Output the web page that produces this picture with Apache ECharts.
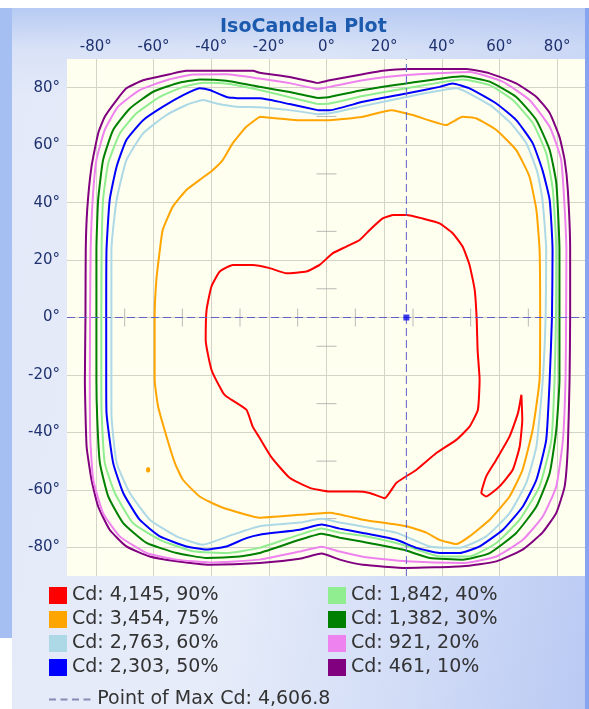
<!DOCTYPE html>
<html><head><meta charset="utf-8">
<script src="https://cdn.jsdelivr.net/npm/echarts@6/dist/echarts.min.js"></script>
<style>
html,body{margin:0;padding:0;width:589px;height:709px;background:#fff;overflow:hidden;position:relative}
#strip{position:absolute;left:0;top:8px;width:12px;height:630px;background:#a6bff3}
#panel{position:absolute;left:12px;top:8px;right:0;bottom:0;background:linear-gradient(to bottom, rgba(178,199,242,0.9) 0px, rgba(205,218,245,0.5) 40px, rgba(225,232,248,0) 90px), linear-gradient(100deg, #e3e9f8 0%, #e6ecf9 45%, #d0dbf6 75%, #b9c9f3 100%)}
#edge{position:absolute;right:0;top:8px;width:4px;bottom:0;background:#86a4ef;z-index:5}
#chart{position:absolute;left:0;top:0;width:589px;height:709px;z-index:2}
</style></head>
<body>
<div id="strip"></div><div id="panel"></div><div id="chart"></div><div id="edge"></div>
<script>
// ---- data (degrees) ----
const axisMin = -90, axisMax = 90;
const contourNames = ['Cd: 4,145, 90%','Cd: 3,454, 75%','Cd: 2,763, 60%','Cd: 2,303, 50%','Cd: 1,842, 40%','Cd: 1,382, 30%','Cd: 921, 20%','Cd: 461, 10%'];
const maxCd = 4606.8;
const maxPoint = [27.7, 0];
const minorTickX = [-70,-50,-30,-10,10,30,50,70];
const minorTickY = [-70,-50,-30,-10,10,30,50,70];

const red90Main = [[22.9,35.7],[27.7,35.7],[33.3,34.5],[39.2,32.8],[43.7,29.4],[47.2,24.7],[49.6,18.3],[51.4,9.6],[52.1,-0.8],[52.4,-11.3],[53.1,-21.7],[52.5,-32.1],[49.6,-38.0],[45.0,-42.6],[38.1,-47.2],[31.2,-53.0],[24.2,-57.6],[20.2,-62.9],[15.0,-61.1],[10.4,-60.6],[1.1,-60.6],[-5.8,-59.3],[-12.8,-55.8],[-19.0,-48.8],[-23.2,-41.9],[-25.6,-38.0],[-27.8,-32.1],[-34.7,-27.5],[-35.9,-26.2],[-39.9,-18.2],[-41.9,-7.8],[-41.6,2.6],[-39.9,10.8],[-37.0,16.0],[-32.5,18.3],[-25.6,18.3],[-19.7,17.2],[-13.9,15.4],[-7.0,16.0],[-2.4,18.3],[2.2,22.4],[6.9,24.7],[11.5,27.0],[15.0,30.5],[19.5,34.5],[22.9,35.7]];
const red90Loop = [[67.6,-26.9],[67.9,-35.6],[67.0,-44.9],[64.6,-53.0],[60.0,-58.8],[55.4,-62.3],[53.7,-61.1],[55.4,-55.3],[58.9,-49.5],[63.5,-41.4],[66.4,-33.3],[67.6,-26.9]];
const orange75 = [[-23.2,69.9],[-9.3,68.7],[1.1,68.7],[12.6,69.9],[22.5,72.2],[29.9,70.5],[41.6,67.0],[43.7,68.1],[47.2,69.9],[52.0,69.3],[58.9,65.3],[65.8,58.3],[70.4,49.0],[72.8,37.4],[73.9,23.5],[74.1,0.2],[73.9,-21.7],[71.5,-39.1],[68.0,-53.0],[63.5,-62.3],[56.6,-70.4],[49.6,-76.2],[45.0,-78.9],[39.2,-77.4],[34.6,-74.9],[27.7,-72.7],[12.6,-70.4],[1.1,-68.0],[-9.3,-68.7],[-23.2,-69.7],[-27.8,-68.7],[-37.0,-65.8],[-44.0,-62.3],[-49.8,-56.5],[-52.6,-50.6],[-55.5,-41.4],[-58.4,-31.0],[-59.6,-21.7],[-59.6,0.2],[-59.0,13.1],[-57.8,23.5],[-56.8,30.5],[-53.3,38.6],[-48.6,44.4],[-44.0,47.9],[-39.5,51.3],[-36.0,54.8],[-32.5,60.7],[-27.8,66.4],[-23.2,69.9]];
const orange75Dot = [[-62.2,-52.4],[-61.5,-52.5],[-61.5,-53.5],[-62.2,-53.6],[-62.2,-52.4]];
const lightBlue60 = [[-3.1,70.8],[1.1,71.1],[12.6,73.6],[27.7,76.8],[45.0,79.8],[56.6,74.0],[63.5,68.1],[69.3,60.7],[73.2,50.3],[74.9,40.9],[76.2,23.5],[76.0,0.2],[75.0,-21.7],[72.8,-44.9],[69.3,-57.6],[63.5,-68.1],[55.4,-76.2],[46.2,-80.2],[35.8,-79.7],[24.2,-74.9],[12.6,-72.8],[4.6,-71.4],[-1.7,-70.1],[-9.3,-71.4],[-23.2,-72.7],[-32.5,-75.6],[-42.9,-79.1],[-52.0,-76.2],[-61.3,-70.4],[-68.2,-61.1],[-72.8,-50.6],[-74.6,-33.2],[-74.6,-21.7],[-74.6,0.2],[-74.6,23.5],[-72.8,40.9],[-69.4,54.8],[-63.6,64.1],[-55.5,70.5],[-48.6,74.0],[-42.8,75.7],[-38.2,74.5],[-31.2,73.4],[-23.2,73.2],[-12.8,72.2],[-3.1,70.8]];
const blue50 = [[-3.1,72.2],[1.1,72.2],[12.6,75.1],[27.7,78.0],[39.2,80.3],[43.7,81.5],[49.6,79.8],[58.9,74.5],[65.8,68.7],[71.5,60.7],[74.9,51.3],[77.4,40.9],[78.4,23.5],[78.2,0.2],[77.4,-21.7],[76.2,-42.6],[72.8,-56.5],[68.1,-65.8],[61.2,-73.9],[53.1,-79.7],[46.2,-82.0],[39.2,-82.0],[31.2,-80.2],[24.2,-77.4],[12.6,-75.0],[4.6,-73.5],[-1.7,-72.1],[-9.3,-73.9],[-23.2,-75.6],[-27.8,-76.8],[-34.7,-79.7],[-41.6,-80.8],[-48.6,-79.7],[-57.8,-76.2],[-64.8,-70.4],[-70.5,-61.1],[-74.0,-50.6],[-76.3,-33.2],[-76.4,-21.7],[-76.4,0.2],[-76.3,23.5],[-75.2,40.9],[-72.8,52.5],[-69.4,61.8],[-63.6,68.7],[-56.7,73.4],[-49.7,77.4],[-44.0,79.8],[-40.5,79.2],[-34.7,76.8],[-30.1,76.3],[-23.2,76.3],[-12.8,74.3],[-3.1,72.2]];
const lightGreen40 = [[-3.1,74.3],[1.1,74.5],[12.6,77.1],[27.7,79.8],[47.2,82.9],[56.6,80.9],[64.6,75.7],[71.6,67.6],[76.2,57.2],[78.5,44.4],[79.7,23.5],[79.6,0.2],[79.1,-21.7],[78.0,-42.6],[73.9,-58.8],[67.0,-70.4],[58.9,-78.5],[49.6,-83.2],[39.2,-83.2],[26.4,-79.1],[12.6,-76.0],[4.6,-74.9],[-1.7,-73.5],[-9.3,-75.6],[-23.2,-80.2],[-34.7,-82.0],[-46.3,-81.4],[-57.8,-77.4],[-67.1,-71.6],[-73.4,-61.1],[-76.9,-50.6],[-78.0,-33.2],[-78.1,-21.7],[-78.1,0.2],[-78.0,23.5],[-77.5,40.9],[-75.7,53.7],[-71.7,64.1],[-65.9,71.1],[-57.8,76.8],[-49.7,80.3],[-42.8,81.7],[-33.6,81.3],[-23.2,79.2],[-12.8,76.7],[-3.1,74.3]];
const green30 = [[-3.1,76.4],[1.1,76.8],[12.6,79.2],[27.7,81.5],[47.2,84.0],[56.6,82.1],[65.8,76.8],[72.8,68.7],[77.4,58.3],[79.7,46.8],[80.8,23.5],[80.8,0.2],[80.8,-21.7],[79.7,-39.1],[77.4,-54.2],[72.8,-65.8],[65.8,-75.0],[56.6,-82.0],[47.2,-84.3],[35.8,-83.7],[26.4,-80.8],[12.6,-78.1],[4.6,-76.7],[-1.7,-75.3],[-9.3,-77.4],[-23.2,-82.0],[-30.1,-83.2],[-41.6,-83.7],[-52.0,-82.0],[-62.4,-78.5],[-70.5,-71.6],[-75.7,-62.3],[-78.6,-50.6],[-79.5,-35.6],[-79.8,-21.7],[-79.8,0.2],[-79.8,23.5],[-79.2,40.9],[-77.5,54.8],[-74.0,65.3],[-68.2,72.8],[-60.1,78.6],[-52.0,81.5],[-44.0,82.9],[-34.7,82.4],[-23.2,80.3],[-12.8,78.5],[-3.1,76.4]];
const violet20 = [[-3.1,79.5],[1.1,80.3],[12.6,82.6],[27.7,84.4],[49.6,85.5],[61.1,82.1],[70.4,75.7],[77.4,66.4],[81.4,54.8],[83.2,23.5],[83.1,0.2],[82.9,-21.7],[82.0,-42.6],[79.7,-58.8],[75.0,-69.3],[68.1,-77.4],[58.9,-83.2],[47.2,-85.5],[27.7,-84.9],[12.6,-83.3],[4.6,-81.5],[-1.7,-79.8],[-9.3,-81.5],[-23.2,-84.3],[-40.5,-85.3],[-52.0,-84.3],[-62.4,-82.0],[-71.7,-76.2],[-77.5,-68.1],[-80.9,-56.5],[-81.9,-42.6],[-82.1,-21.7],[-82.0,0.2],[-81.8,23.5],[-81.1,40.9],[-79.8,54.8],[-76.9,65.3],[-72.3,73.4],[-64.8,79.2],[-55.5,82.6],[-46.3,84.6],[-34.7,84.7],[-23.2,83.2],[-12.8,81.6],[-3.1,79.5]];
const purple10 = [[-3.1,81.6],[1.1,82.6],[12.6,84.7],[19.5,85.9],[27.7,86.5],[48.5,86.5],[56.6,85.0],[65.8,81.5],[72.8,76.8],[77.4,71.2],[80.8,62.9],[82.6,54.8],[83.7,44.4],[84.5,23.5],[84.5,0.2],[84.3,-21.7],[83.7,-44.9],[82.6,-58.8],[79.7,-68.0],[74.9,-74.9],[68.0,-80.8],[58.9,-84.9],[47.2,-86.6],[27.7,-87.2],[12.6,-86.1],[4.6,-84.3],[-1.7,-82.2],[-9.3,-84.0],[-23.2,-85.5],[-40.5,-86.1],[-52.0,-84.9],[-61.3,-83.2],[-69.4,-79.7],[-75.2,-73.9],[-79.2,-65.8],[-81.5,-56.5],[-83.2,-44.9],[-83.8,-21.7],[-83.6,0.2],[-83.5,23.5],[-83.0,37.4],[-81.5,52.5],[-79.2,64.1],[-76.9,69.9],[-72.8,75.7],[-69.4,79.8],[-63.6,82.6],[-54.4,84.7],[-48.6,85.9],[-25.5,85.9],[-23.2,85.2],[-12.8,83.7],[-3.1,81.6]];

// ---- styles ----
const contourColors = ['#ff0000','#ffa500','#add8e6','#0000ff','#90ee90','#008000','#ee82ee','#800080'];
const maxLineColor = '#6060c8';
const font = 'DejaVu Sans';
const labelColor = '#1f3270';

const maxName = 'Point of Max Cd: ' + maxCd.toLocaleString('en-US', {minimumFractionDigits: 1});

function contour(idx, data, z) {
  return {type: 'line', name: contourNames[idx], data: data, symbol: 'none', smooth: 0.15,
    lineStyle: {color: contourColors[idx], width: 2}, itemStyle: {color: contourColors[idx]},
    silent: true, z: z};
}
const degFmt = v => (Math.round(v) % 20 === 0 ? Math.round(v) + '°' : '');

const series = [
  {type: 'scatter', name: 'minorX', data: minorTickX.map(v => [v, 0]), symbol: 'rect', symbolSize: [1, 18], itemStyle: {color: '#a8a8a8'}, silent: true, z: 1},
  {type: 'scatter', name: 'minorY', data: minorTickY.map(v => [0, v]), symbol: 'rect', symbolSize: [20, 1], itemStyle: {color: '#a8a8a8'}, silent: true, z: 1},
  contour(7, purple10, 2),
  contour(6, violet20, 2),
  contour(5, green30, 2),
  contour(4, lightGreen40, 2),
  contour(3, blue50, 2),
  contour(2, lightBlue60, 2),
  contour(1, orange75, 2),
  contour(1, orange75Dot, 2),
  contour(0, red90Main, 2),
  contour(0, red90Loop, 2),
  {type: 'line', name: maxName, data: [[axisMin, maxPoint[1]], [axisMax, maxPoint[1]]], symbol: 'none',
   lineStyle: {color: maxLineColor, width: 1, type: [8, 4]}, itemStyle: {color: maxLineColor}, silent: true, z: 3},
  {type: 'line', name: maxName, data: [[maxPoint[0], axisMin], [maxPoint[0], axisMax]], symbol: 'none',
   lineStyle: {color: maxLineColor, width: 1, type: [8, 4]}, itemStyle: {color: maxLineColor}, silent: true, z: 3},
  {type: 'scatter', name: 'maxPt', data: [maxPoint], symbol: 'rect', symbolSize: 6, itemStyle: {color: '#1010e8'}, silent: true, z: 4}
];

const legendCommon = {orient: 'vertical', itemWidth: 18, itemHeight: 17, itemGap: 5, padding: 0, selectedMode: false,
  textStyle: {fontFamily: font, fontSize: 19, color: '#333'}, icon: 'rect'};

const option = {
  animation: false,
  textStyle: {fontFamily: font},
  title: {text: 'IsoCandela Plot', left: 215, top: 13,
    textStyle: {fontFamily: font, fontWeight: 'bold', fontSize: 19, color: '#1c5aae'}},
  grid: {left: 67, top: 59, width: 519, height: 517, show: true, backgroundColor: '#fffff0', borderWidth: 0},
  xAxis: {type: 'value', position: 'top', min: axisMin, max: axisMax, interval: 10,
    axisLine: {show: false}, axisTick: {show: false},
    axisLabel: {formatter: degFmt, margin: 4, fontSize: 15, color: labelColor, fontFamily: font},
    splitLine: {show: true, lineStyle: {color: ['rgba(0,0,0,0)', '#d3d3c8'], width: 1}}},
  yAxis: {type: 'value', position: 'left', min: axisMin, max: axisMax, interval: 10,
    axisLine: {show: false}, axisTick: {show: false},
    axisLabel: {formatter: degFmt, margin: 7, fontSize: 15, color: labelColor, fontFamily: font},
    splitLine: {show: true, lineStyle: {color: ['rgba(0,0,0,0)', '#d3d3c8'], width: 1}}},
  legend: [
    Object.assign({}, legendCommon, {left: 49, top: 586, data: contourNames.slice(0, 4)}),
    Object.assign({}, legendCommon, {left: 328, top: 586, data: contourNames.slice(4, 8)}),
    {orient: 'vertical', left: 49, top: 690, padding: 0, selectedMode: false, itemWidth: 45, itemHeight: 2,
     itemStyle: {color: '#8a8ab4'},
     textStyle: {fontFamily: font, fontSize: 19, color: '#333'},
     data: [{name: maxName, icon: 'path://M0,0h7v2h-7z M11.5,0h7v2h-7z M23,0h7v2h-7z M34.5,0h7v2h-7z'}]}
  ],
  series: series
};
const chart = echarts.init(document.getElementById('chart'), null, {renderer: 'canvas'});
chart.setOption(option);
</script>
</body></html>
